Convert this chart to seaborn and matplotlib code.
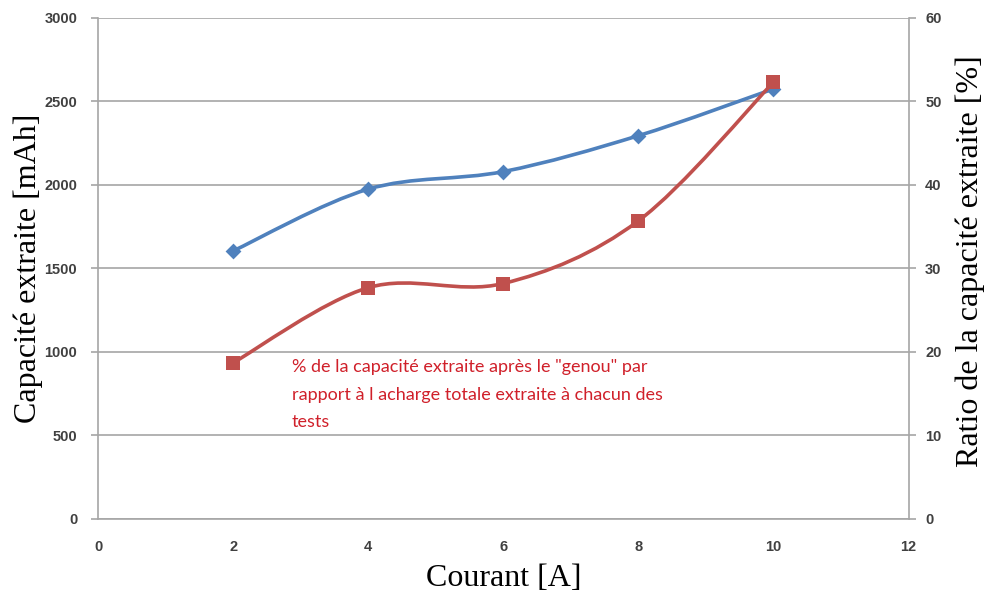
import numpy as np
import pandas as pd
import seaborn as sns
import matplotlib
matplotlib.use("Agg")
import matplotlib.pyplot as plt
from matplotlib.path import Path
from matplotlib.patches import PathPatch
from matplotlib.font_manager import FontProperties

# ---- data ----
courant = [2, 4, 6, 8, 10]
capacite = [1605, 1975, 2080, 2295, 2575]
ratio = [18.7, 27.7, 28.2, 35.7, 52.3]

xticks = [0, 2, 4, 6, 8, 10, 12]
yticks_left = [0, 500, 1000, 1500, 2000, 2500, 3000]
yticks_right = [0, 10, 20, 30, 40, 50, 60]

annotation = ('% de la capacité extraite après le "genou" par\n'
              'rapport à l acharge totale extraite à chacun des\n'
              'tests')

BLUE = "#4F81BD"
RED = "#C0504D"
GRID = "#A6A6A6"
TICK = "#404040"

sns.set_style("white")
plt.rcParams['font.family'] = ['Liberation Sans', 'DejaVu Sans']

df = pd.DataFrame({"courant": courant, "capacite": capacite, "ratio": ratio})


def smooth_path(xs, ys):
    """Excel-style smoothed line drawn as cubic Bezier segments."""
    pts = np.column_stack([xs, ys]).astype(float)
    n = len(pts)
    verts = [pts[0]]
    codes = [Path.MOVETO]
    for i in range(n - 1):
        p0 = pts[i - 1] if i > 0 else pts[i]
        p1 = pts[i]
        p2 = pts[i + 1]
        p3 = pts[i + 2] if i + 2 < n else pts[i + 1]
        c1 = p1 + (p2 - p0) / 6.0
        c2 = p2 - (p3 - p1) / 6.0
        verts += [c1, c2, p2]
        codes += [Path.CURVE4] * 3
    return Path(verts, codes)


fig = plt.figure(figsize=(9.86, 5.99), dpi=100)
ax = fig.add_axes([0.0994, 0.1336, 0.8220, 0.8364])
ax2 = ax.twinx()

ax.set_xlim(0, 12)
ax.set_ylim(0, 3000)
ax2.set_ylim(0, 60)
ax.set_yticks(yticks_left)
ax.set_xticks(xticks)
ax2.set_yticks(yticks_right)
ax.yaxis.grid(True, color=GRID, lw=1.2)
ax.xaxis.grid(False)
ax.set_axisbelow(True)

# blue series (left axis)
ax.add_patch(PathPatch(smooth_path(df["courant"], df["capacite"]),
                       facecolor="none", edgecolor=BLUE, lw=2.6,
                       zorder=3, capstyle="round"))
sns.scatterplot(data=df, x="courant", y="capacite", ax=ax, marker="D",
                s=65, color=BLUE, edgecolor=BLUE, linewidth=0, zorder=4)

# red series (right axis)
ax2.add_patch(PathPatch(smooth_path(df["courant"], df["ratio"]),
                        facecolor="none", edgecolor=RED, lw=2.6,
                        zorder=3, capstyle="round"))
sns.scatterplot(data=df, x="courant", y="ratio", ax=ax2, marker="s",
                s=110, color=RED, edgecolor=RED, linewidth=0, zorder=4)

# spines
for a in (ax, ax2):
    for s in a.spines.values():
        s.set_visible(False)
ax.spines["left"].set_visible(True)
ax.spines["bottom"].set_visible(True)
ax2.spines["right"].set_visible(True)
for s in (ax.spines["left"], ax.spines["bottom"], ax2.spines["right"]):
    s.set_color(GRID)
    s.set_linewidth(1.2)

tick_font = dict(family=['Liberation Sans Narrow', 'Liberation Sans', 'DejaVu Sans'],
                 weight='bold', size=10.5)
ax.tick_params(axis='both', which='both', length=5, width=1.2, color=GRID,
               labelcolor=TICK, direction='out')
ax.tick_params(axis='y', pad=10)
ax.tick_params(axis='x', pad=10)
ax2.tick_params(axis='y', length=5, width=1.2, color=GRID,
                labelcolor=TICK, direction='out', pad=7)
for lab in ax.get_xticklabels() + ax.get_yticklabels() + ax2.get_yticklabels():
    lab.set_fontproperties(FontProperties(**tick_font))

label_font = dict(family=['Liberation Serif', 'DejaVu Serif'], size=23, color='black')
ax.set_xlabel("Courant [A]", va='center', **label_font)
ax.xaxis.set_label_coords(0.5, -0.118)
ax.set_ylabel("Capacité extraite [mAh]", va='center', **label_font)
ax.yaxis.set_label_coords(-0.086, 0.50)
ax2.set_ylabel("Ratio de la capacité extraite [%]", rotation=90, va='center',
               **label_font)
ax2.yaxis.set_label_coords(1.0765, 0.515)

ax.text(2.87, 955, annotation, ha='left', va='top', color="#D0202A",
        family=['Lato', 'DejaVu Sans'], fontsize=13, linespacing=1.85,
        zorder=5)

fig.savefig("out.png", dpi=100)
